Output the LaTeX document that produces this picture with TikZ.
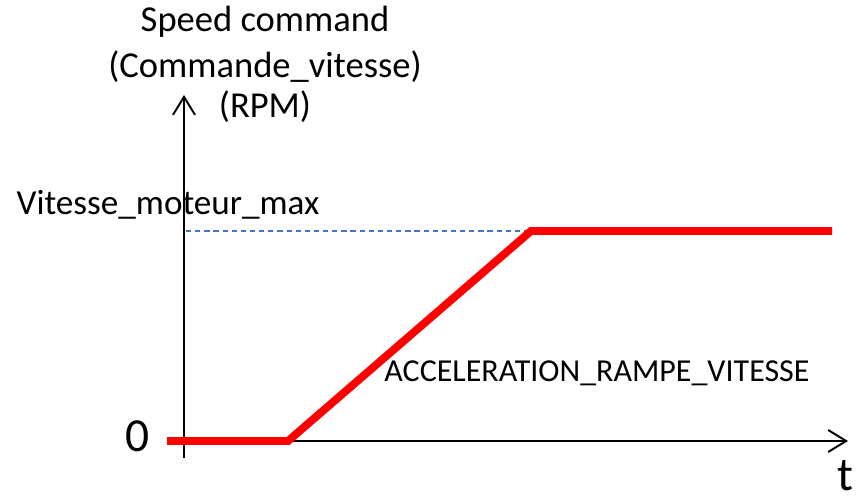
\documentclass[tikz,border=0pt]{standalone}
\usepackage{fontspec}
\setmainfont{Carlito}
\usetikzlibrary{arrows.meta}
\definecolor{levelblue}{RGB}{68,114,196}
\begin{document}
\begin{tikzpicture}[x=0.02cm, y=-0.02cm,
  axis/.style={line width=1.1pt, -{Straight Barb[length=3.6mm, width=4.4mm, line width=1.1pt]}},
  ramp/.style={line width=4.5pt, red},
  level/.style={dash pattern=on 3pt off 2.2pt, color=levelblue, line width=0.6pt},
  lbl/.style={font=\fontsize{20.8}{25}\selectfont, inner sep=0pt, anchor=base},
  big/.style={font=\fontsize{27}{32}\selectfont, inner sep=0pt, anchor=base}]
  \useasboundingbox (0,0) rectangle (859,499);
  % axes
  \coordinate (o) at (184,441);
  \coordinate (ybot) at (184,458);
  \coordinate (ytop) at (184,95);
  \coordinate (xleft) at (170,441);
  \coordinate (xright) at (848,441);
  \draw[axis] (ybot) -- (ytop);
  \draw[axis] (xleft) -- (xright);
  % ramp
  \coordinate (r0) at (167,441);
  \coordinate (r1) at (288,441);
  \coordinate (r2) at (531,231);
  \coordinate (r3) at (832,231);
  \coordinate (lvl) at (186,231);
  \draw[level] (lvl) -- (r2);
  \draw[ramp] (r0) -- (r1) -- (r2) -- (r3);
  % labels
  \node[lbl] (title1) at (265,32) {Speed command};
  \node[lbl] (title2) at (265,78) {(Commande\_vitesse)};
  \node[lbl] (title3) at (265,118) {(RPM)};
  \node[lbl, font=\fontsize{20}{24}\selectfont] (vmax) at (168,215) {Vitesse\_moteur\_max};
  \node[lbl, font=\fontsize{18.2}{22}\selectfont] (accel) at (597,382) {ACCELERATION\_RAMPE\_VITESSE};
  \node[big] (zero) at (138,452) {0};
  \node[big] (t) at (845,491) {t};
\end{tikzpicture}
\end{document}
